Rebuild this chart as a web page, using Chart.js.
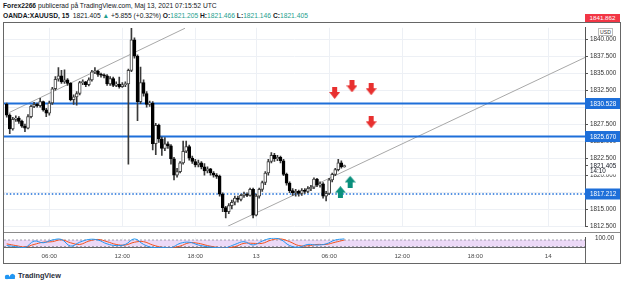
<!DOCTYPE html>
<html><head><meta charset="utf-8">
<script src="https://cdn.jsdelivr.net/npm/chart.js@4.4.1/dist/chart.umd.min.js"></script>
<style>
html,body{margin:0;padding:0;background:#fff;width:625px;height:283px;overflow:hidden;font-family:"Liberation Sans",Arial,sans-serif;}
.abs{position:absolute;}
#h1{left:3px;top:2px;font-size:6.7px;color:#131722;white-space:nowrap;}
#h2{left:3px;top:12px;font-size:6.7px;color:#131722;white-space:nowrap;}
.g{color:#1e9e8e;}
#frame{left:3px;top:22px;width:618px;height:242px;border:1px solid #666;box-sizing:border-box;}
#sep1{left:4px;top:232px;width:616px;height:1px;background:#8a8a8a;}
#sep2{left:585px;top:248px;width:1px;height:15px;background:#666;}
#cA{left:4px;top:22px;}
#cB{left:4px;top:232px;}
#redlbl{left:585px;top:14px;width:35px;height:8px;background:#f23645;color:#fff;font-size:6.2px;line-height:7px;text-align:center;overflow:hidden;}
#usd{left:598px;top:28px;width:15px;height:8px;background:#fff;border:1px solid #bbb;box-sizing:border-box;font-size:5.2px;line-height:6px;text-align:center;color:#333;}
#logo{left:4px;top:271px;height:10px;white-space:nowrap;font-size:7.3px;color:#2a2e39;font-weight:600;}
#logo svg{vertical-align:middle;margin-right:2px;}
</style></head><body>
<div id="h1" class="abs"><b>Forex2266</b> publicerad på TradingView.com, Maj 13, 2021 07:15:52 UTC</div>
<div id="h2" class="abs"><b>OANDA:XAUUSD, 15</b>&nbsp; 1821.405 <span class="g">▲</span> +5.855 (+0.32%) <b>O:</b><span class="g">1821.205</span> <b>H:</b><span class="g">1821.466</span> <b>L:</b><span class="g">1821.146</span> <b>C:</b><span class="g">1821.405</span></div>
<div id="frame" class="abs"></div>
<canvas id="cA" class="abs" width="616" height="210"></canvas>
<canvas id="cB" class="abs" width="616" height="31"></canvas>
<div id="sep1" class="abs"></div>
<div id="sep2" class="abs"></div>
<div id="redlbl" class="abs">1841.862</div>
<div id="usd" class="abs">USD</div>
<div id="logo" class="abs"><svg width="12" height="8" viewBox="0 0 12 8"><path d="M1 7 L4 2.5 L6 5 L8.5 1.5 L11 7 Z" fill="#2196f3"/><circle cx="3" cy="5" r="2.2" fill="#2196f3"/><circle cx="8.5" cy="4.5" r="2.6" fill="#2196f3"/></svg>TradingView</div>
<script>
// ---- data (bar index 0 = 02:30, 15-minute bars) ----
const barOpen = [1830.4,1828.8,1826.8,1828.2,1828.4,1827.9,1827.2,1826.9,1828.6,1830.1,
1830.4,1830.2,1830.8,1829.6,1829.1,1830.6,1832.7,1834.1,1834.6,1833.7,
1834.0,1833.5,1831.1,1831.5,1832.0,1833.6,1833.7,1833.3,1834.0,1835.2,
1835.3,1834.8,1834.7,1834.6,1833.4,1834.2,1833.2,1833.4,1833.0,1833.3,
1833.4,1835.4,1839.9,1837.5,1830.8,1833.6,1832.0,1830.4,1830.6,1824.6,
1827.3,1825.3,1823.9,1824.6,1824.3,1822.4,1820.0,1820.5,1821.8,1823.5,
1824.2,1822.5,1822.0,1821.5,1821.8,1821.2,1820.6,1820.9,1820.3,1820.0,
1819.8,1817.2,1815.2,1814.6,1815.5,1816.0,1816.6,1816.4,1817.0,1817.2,
1817.0,1817.9,1814.1,1816.9,1817.9,1818.9,1820.3,1822.0,1822.9,1822.4,
1822.6,1822.1,1820.1,1818.8,1817.7,1817.4,1817.6,1817.3,1817.7,1817.6,
1818.0,1818.2,1819.4,1818.5,1818.7,1816.9,1817.3,1819.3,1820.1,1820.8,
1821.8,1821.205];
const barHigh = [1830.6,1829.0,1828.5,1828.7,1828.6,1828.1,1827.5,1828.9,1830.3,1830.7,
1830.6,1831.3,1830.9,1829.8,1830.9,1832.9,1834.5,1835.8,1835.4,1835.5,
1834.2,1833.6,1831.8,1832.3,1833.8,1834.0,1833.8,1834.3,1835.4,1835.8,
1835.4,1835.0,1834.9,1834.8,1834.5,1834.4,1833.7,1834.4,1833.6,1833.7,
1835.6,1841.6,1840.2,1837.7,1835.9,1834.0,1832.3,1830.9,1830.8,1827.6,
1827.5,1825.6,1825.5,1824.9,1824.5,1822.6,1821.0,1822.0,1825.0,1825.0,
1824.4,1822.8,1822.3,1822.2,1822.0,1821.7,1821.2,1821.0,1820.5,1820.2,
1820.0,1817.4,1815.4,1815.8,1816.3,1816.9,1816.9,1817.2,1817.5,1817.4,
1818.1,1818.1,1817.2,1818.1,1819.1,1820.5,1822.3,1823.3,1823.2,1822.9,
1822.8,1822.3,1820.3,1819.0,1818.0,1817.9,1817.8,1818.0,1818.0,1818.3,
1818.5,1819.6,1819.5,1819.0,1818.9,1817.6,1819.5,1820.3,1821.0,1822.3,
1822.1,1821.466];
const barLow = [1828.5,1826.1,1826.6,1827.9,1827.6,1827.0,1826.4,1826.8,1828.4,1829.9,
1830.0,1830.0,1829.4,1828.6,1828.8,1830.4,1832.5,1833.8,1833.5,1833.5,
1833.2,1830.9,1830.4,1830.3,1831.8,1833.3,1833.0,1833.1,1833.8,1834.9,
1834.5,1834.4,1834.3,1833.2,1833.2,1833.0,1833.0,1832.8,1832.9,1833.0,
1821.6,1835.2,1837.2,1828.0,1830.5,1831.6,1830.0,1830.1,1823.7,1823.0,
1824.8,1822.9,1823.6,1823.9,1821.6,1819.3,1819.7,1820.3,1821.6,1823.3,
1822.2,1821.7,1821.2,1821.2,1820.9,1820.0,1820.3,1820.0,1819.7,1819.5,
1816.9,1814.6,1813.7,1814.3,1815.0,1815.6,1816.0,1816.2,1816.7,1816.8,
1816.9,1813.7,1814.0,1816.6,1817.6,1818.6,1820.0,1821.8,1822.0,1822.1,
1821.8,1819.9,1818.5,1817.4,1817.0,1816.9,1816.9,1817.0,1817.3,1817.4,
1817.7,1818.0,1818.3,1818.2,1816.6,1816.2,1817.1,1819.0,1819.9,1820.6,
1821.0,1821.146];
const barClose = [1828.8,1826.8,1828.2,1828.4,1827.9,1827.2,1826.9,1828.6,1830.1,1830.4,
1830.2,1830.8,1829.6,1829.1,1830.6,1832.7,1834.1,1834.6,1833.7,1834.0,
1833.5,1831.1,1831.5,1832.0,1833.6,1833.7,1833.3,1834.0,1835.2,1835.3,
1834.8,1834.7,1834.6,1833.4,1834.2,1833.2,1833.4,1833.0,1833.3,1833.4,
1835.4,1839.9,1837.5,1830.8,1833.6,1832.0,1830.4,1830.6,1824.6,1827.3,
1825.3,1823.9,1824.6,1824.3,1822.4,1820.0,1820.5,1821.8,1823.5,1824.2,
1822.5,1822.0,1821.5,1821.8,1821.2,1820.6,1820.9,1820.3,1820.0,1819.8,
1817.2,1815.2,1814.6,1815.5,1816.0,1816.6,1816.4,1817.0,1817.2,1817.0,
1817.9,1814.1,1816.9,1817.9,1818.9,1820.3,1822.0,1822.9,1822.4,1822.6,
1822.1,1820.1,1818.8,1817.7,1817.4,1817.6,1817.3,1817.7,1817.6,1818.0,
1818.2,1819.4,1818.5,1818.7,1816.9,1817.3,1819.3,1820.1,1820.8,1821.8,
1821.2,1821.405];

const timeTickIdx = [14, 38, 62, 82, 106, 130, 154, 178];
const timeTickText = ['06:00','12:00','18:00','13','06:00','12:00','18:00','14'];
const priceTicks = [1812.5,1815,1817.5,1820,1822.5,1825,1827.5,1830,1832.5,1835,1837.5,1840];

const levelSolid = [1830.528, 1825.670];
const levelDotted = [1817.212];
const lastPrice = 1821.405;
const lastCountdown = '14:10';

const trendA = [{x:0.85, y:1829.2},{x:58.6, y:1841.6}];
const trendB = [{x:72.7, y:1812.47},{x:190.1, y:1837.3}];

const redArrowIdx = [107.8, 113.5, 119.8, 119.8];
const redArrowVal = [1832.08, 1833.05, 1832.63, 1827.76];
const greenArrowIdx = [112.9, 109.7];
const greenArrowVal = [1819.0, 1817.47];

const stochIdx = [0,3,6,9,12,15,18,21,24,27,30,33,36,39,42,45,48,51,54,57,60,63,66,69,72,75,78,81,84,87,90,93,96,99,102,105,108,111];
const stochK = [30,20,12,70,55,80,85,25,60,85,80,45,30,40,90,40,12,14,10,50,60,35,20,12,10,40,65,35,70,95,85,30,15,40,35,45,80,90];
const stochD = [45,30,18,40,60,65,82,55,40,70,85,65,40,35,60,65,35,15,12,25,55,50,30,15,10,20,50,50,50,80,90,65,30,28,40,40,60,80];

// ---- helpers ----
const FONT = '"Liberation Sans", Arial, sans-serif';
const X_MIN = -0.888, X_MAX = 190.1;
const Y_MIN = 1812.47, Y_MAX = 1841.67;
const GRID = '#edf0f5';

function arrowImg(color, down){
  const c = document.createElement('canvas'); c.width = 11; c.height = 12;
  const g = c.getContext('2d');
  g.fillStyle = color;
  g.beginPath();
  if (down){ g.moveTo(3,0); g.lineTo(8,0); g.lineTo(8,5); g.lineTo(11,5); g.lineTo(5.5,12); g.lineTo(0,5); g.lineTo(3,5); }
  else { g.moveTo(5.5,0); g.lineTo(11,6.5); g.lineTo(8,6.5); g.lineTo(8,12); g.lineTo(3,12); g.lineTo(3,6.5); g.lineTo(0,6.5); }
  g.closePath(); g.fill();
  return c;
}
const redImg = arrowImg('#e8302f', true);
const greenImg = arrowImg('#0a8f7c', false);

const bodies = barOpen.map((o,i)=>({x:i, y:[o, barClose[i]]}));
const wicks = barLow.map((l,i)=>({x:i, y:[l, barHigh[i]]}));
const isUp = barOpen.map((o,i)=> barClose[i] >= o);

const hl = v => [{x:X_MIN-5, y:v},{x:X_MAX+5, y:v}];

const labelPlugin = {
  id:'labels',
  afterDraw(chart){
    const {ctx, chartArea, scales:{y}} = chart;
    const W = chart.width;
    ctx.save();
    ctx.font = '6.3px ' + FONT;
    ctx.textBaseline = 'middle';
    let py = y.getPixelForValue(lastPrice);
    ctx.fillStyle = '#fff';
    ctx.fillRect(chartArea.right+1, py-4, W-chartArea.right-1, 13);
    ctx.fillStyle = '#555'; ctx.fillRect(chartArea.right, Math.round(py), 3, 1);
    ctx.fillStyle = '#131722';
    ctx.fillText(lastPrice.toFixed(3), chartArea.right+5, py+0.5);
    ctx.fillText(lastCountdown, chartArea.right+5, py+6);
    [...levelSolid, ...levelDotted].forEach(v=>{
      const yy = y.getPixelForValue(v);
      ctx.fillStyle = '#1e6fd9';
      ctx.fillRect(chartArea.right, yy-5.5, W-chartArea.right, 11);
      ctx.fillStyle = '#fff';
      ctx.fillText(v.toFixed(3), chartArea.right+5, yy+0.5);
    });
    ctx.restore();
  }
};

new Chart(document.getElementById('cA'), {
  type:'bar',
  data:{datasets:[
    {type:'scatter', data: redArrowIdx.map((x,i)=>({x, y:redArrowVal[i]})), pointStyle:redImg, pointRadius:6, order:0},
    {type:'scatter', data: greenArrowIdx.map((x,i)=>({x, y:greenArrowVal[i]})), pointStyle:greenImg, pointRadius:6, order:0},
    {data: bodies, grouped:false, barThickness:3, minBarLength:1, borderWidth:1, borderSkipped:false,
     backgroundColor: c => isUp[c.dataIndex] ? '#ffffff' : '#000000',
     borderColor: c => isUp[c.dataIndex] ? '#444444' : '#000000', order:1},
    {data: wicks, grouped:false, barThickness:1, backgroundColor:'#3a3a3a', borderWidth:0, order:2},
    ...levelSolid.map(v=>({type:'line', data: hl(v), borderColor:'#1e6fd9', borderWidth:2, pointRadius:0, order:3})),
    ...levelDotted.map(v=>({type:'line', data: hl(v), borderColor:'#1e6fd9', borderWidth:1.3, borderDash:[1.5,2], pointRadius:0, order:3})),
    {type:'line', data: trendA, borderColor:'#a8a8a8', borderWidth:1, pointRadius:0, order:4},
    {type:'line', data: trendB, borderColor:'#a8a8a8', borderWidth:1, pointRadius:0, order:4}
  ]},
  options:{
    responsive:false, maintainAspectRatio:false, animation:false, events:[],
    layout:{padding:0, autoPadding:false},
    plugins:{legend:{display:false}, tooltip:{enabled:false}},
    scales:{
      x:{type:'linear', min:X_MIN, max:X_MAX, offset:false,
         afterBuildTicks: s => { s.ticks = timeTickIdx.map(v=>({value:v})); },
         ticks:{display:false}, grid:{color:GRID, drawTicks:false, offset:false}, border:{display:false},
         afterFit: s => { s.height = 0; }},
      y:{position:'right', min:Y_MIN, max:Y_MAX,
         afterBuildTicks: s => { s.ticks = priceTicks.map(v=>({value:v})); },
         ticks:{callback: v => Number(v).toFixed(3), font:{size:6.3, family:FONT}, color:'#333', padding:2},
         grid:{color:GRID, tickColor:'#555', tickLength:3},
         border:{display:true, color:'#555'},
         afterFit: s => { s.width = 35; }}
    }
  },
  plugins:[labelPlugin]
});

const bandPlugin = {
  id:'band',
  beforeDatasetsDraw(chart){
    const {ctx, chartArea:a, scales:{y}} = chart;
    const y80 = y.getPixelForValue(80), y20 = y.getPixelForValue(20);
    ctx.save();
    ctx.fillStyle = '#ecd9f7';
    ctx.fillRect(a.left, y80, a.right-a.left, y20-y80);
    ctx.strokeStyle = '#8a8a9a'; ctx.lineWidth = 0.8; ctx.setLineDash([2,2]);
    [y80, y20].forEach(yy=>{ ctx.beginPath(); ctx.moveTo(a.left, yy); ctx.lineTo(a.right, yy); ctx.stroke(); });
    ctx.restore();
  }
};

new Chart(document.getElementById('cB'), {
  type:'line',
  data:{datasets:[
    {data: stochIdx.map((x,i)=>({x, y:stochK[i]})), borderColor:'#2196f3', borderWidth:1, pointRadius:0, tension:0.4},
    {data: stochIdx.map((x,i)=>({x, y:stochD[i]})), borderColor:'#f4511e', borderWidth:1, pointRadius:0, tension:0.4}
  ]},
  options:{
    responsive:false, maintainAspectRatio:false, animation:false, events:[],
    layout:{padding:0, autoPadding:false},
    plugins:{legend:{display:false}, tooltip:{enabled:false}},
    scales:{
      x:{type:'linear', min:X_MIN, max:X_MAX, offset:false,
         afterBuildTicks: s => { s.ticks = timeTickIdx.map(v=>({value:v})); },
         ticks:{callback:(v,i)=>timeTickText[i], font:{size:6.2, family:FONT}, color:'#4a4a4a', padding:5, maxRotation:0, autoSkip:false},
         grid:{color:GRID, drawTicks:false}, border:{display:true, color:'#666'},
         afterFit: s => { s.height = 15; }},
      y:{position:'right', min:8, max:100,
         afterBuildTicks: s => { s.ticks = [{value:100}]; },
         ticks:{callback: v => Number(v).toFixed(2), font:{size:6.3, family:FONT}, color:'#333', padding:2},
         grid:{display:false, drawOnChartArea:false},
         border:{display:true, color:'#555'},
         afterFit: s => { s.width = 35; }}
    }
  },
  plugins:[bandPlugin]
});
</script>
</body></html>
